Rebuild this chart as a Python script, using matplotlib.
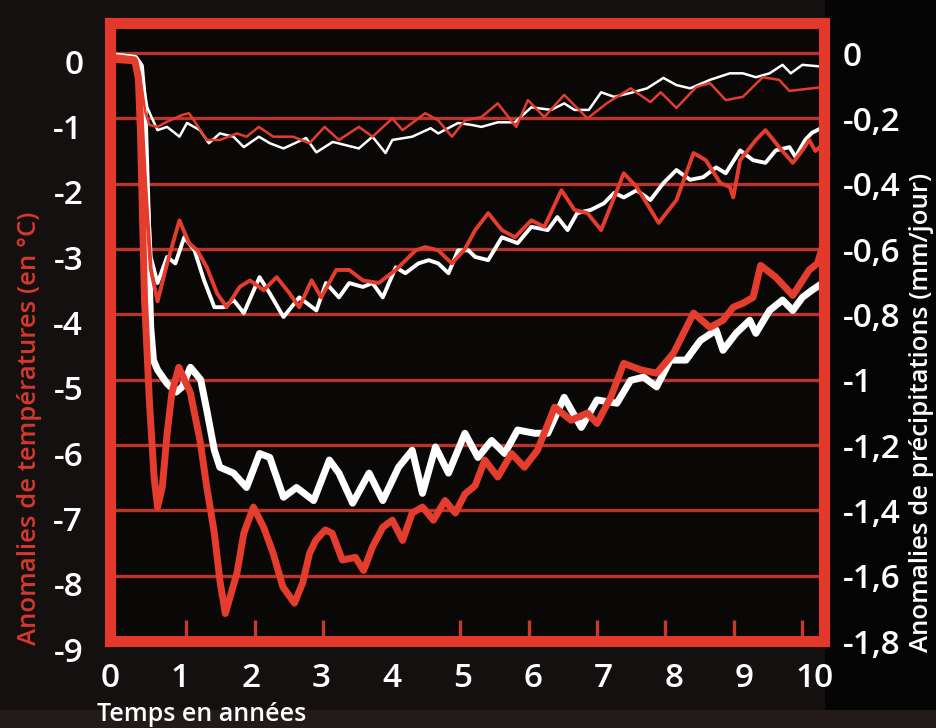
import numpy as np
import matplotlib
matplotlib.use("Agg")
import matplotlib.pyplot as plt
import matplotlib.transforms as mtransforms
from matplotlib.patches import Rectangle

plt.rcParams['font.family'] = ['Open Sans', 'DejaVu Sans']

# --- temperature anomalies (°C), three scenarios: weak / medium / strong ---
temp_weak_t = [0, 0.25, 0.32, 0.40, 0.46, 0.58, 0.72, 0.83, 0.93, 1.04, 1.13, 1.30, 1.49, 1.74,
               1.88, 2.06, 2.27, 2.56, 2.80, 3.02, 3.23, 3.52, 3.72, 4.01, 4.16, 4.49, 4.68, 4.88,
               5.07, 5.31, 5.55, 5.82, 5.99, 6.23, 6.52, 6.86, 7.14, 7.49, 7.78, 7.93, 8.16, 8.45,
               8.65, 8.88, 9.13, 9.42, 9.66, 9.81, 10.05, 10.31]
temp_weak = [-0.05, -0.08, -0.3, -0.9, -1.1, -1.13, -1.05, -1.0, -0.95, -0.92, -1.06, -1.33, -1.33,
             -1.23, -1.28, -1.13, -1.28, -1.28, -1.38, -1.13, -1.33, -1.13, -1.28, -1.0, -1.18,
             -0.92, -1.03, -1.28, -1.03, -0.98, -0.77, -1.13, -0.72, -0.98, -0.64, -1.0, -0.77,
             -0.54, -0.75, -0.60, -0.84, -0.52, -0.46, -0.72, -0.67, -0.37, -0.41, -0.58, -0.55, -0.52]

temp_mid_t = [0, 0.25, 0.32, 0.40, 0.48, 0.58, 0.72, 0.90, 1.04, 1.16, 1.30, 1.45, 1.59, 1.78, 1.93,
              2.13, 2.32, 2.51, 2.65, 2.83, 2.97, 3.19, 3.38, 3.58, 3.81, 4.06, 4.35, 4.49, 4.68,
              4.88, 5.07, 5.22, 5.41, 5.61, 5.80, 6.04, 6.23, 6.48, 6.67, 6.86, 7.06, 7.25, 7.39,
              7.58, 7.90, 8.16, 8.41, 8.59, 8.80, 8.94, 8.99, 9.09, 9.32, 9.46, 9.66, 9.86, 10.0,
              10.1, 10.19, 10.31]
temp_mid = [-0.05, -0.08, -0.4, -2.0, -3.3, -3.8, -3.22, -2.56, -2.91, -3.02, -3.28, -3.68, -3.89,
            -3.58, -3.48, -3.63, -3.43, -3.68, -3.89, -3.48, -3.74, -3.32, -3.32, -3.48, -3.52,
            -3.32, -3.02, -2.97, -3.02, -3.22, -3.0, -2.71, -2.45, -2.71, -2.82, -2.56, -2.66,
            -2.10, -2.40, -2.45, -2.71, -2.21, -1.84, -2.05, -2.60, -2.25, -1.53, -1.64, -1.99,
            -2.05, -2.21, -1.64, -1.33, -1.18, -1.44, -1.68, -1.49, -1.33, -1.50, -1.38]

temp_strong_t = [0, 0.25, 0.30, 0.33, 0.36, 0.39, 0.46, 0.53, 0.58, 0.65, 0.72, 0.79, 0.89, 1.06,
                 1.20, 1.30, 1.41, 1.49, 1.57, 1.74, 1.84, 1.98, 2.13, 2.27, 2.41, 2.58, 2.70, 2.80,
                 2.89, 3.03, 3.13, 3.28, 3.47, 3.59, 3.72, 3.87, 4.01, 4.16, 4.30, 4.45, 4.61, 4.78,
                 4.93, 5.07, 5.22, 5.36, 5.55, 5.75, 5.94, 6.13, 6.38, 6.62, 6.86, 7.00, 7.20, 7.39,
                 7.64, 7.87, 8.12, 8.41, 8.65, 8.84, 8.99, 9.13, 9.28, 9.39, 9.61, 9.86, 10.1,
                 10.22, 10.31]
temp_strong = [-0.1, -0.12, -0.4, -1.2, -2.5, -3.78, -5.31, -6.5, -6.95, -6.64, -5.82, -5.2, -4.81,
               -5.2, -5.93, -6.65, -7.35, -8.07, -8.58, -7.96, -7.35, -6.95, -7.26, -7.66, -8.17,
               -8.42, -8.11, -7.66, -7.46, -7.30, -7.35, -7.76, -7.72, -7.92, -7.56, -7.26, -7.15,
               -7.46, -7.04, -6.95, -7.15, -6.85, -7.04, -6.75, -6.62, -6.23, -6.49, -6.13, -6.34,
               -6.08, -5.42, -5.62, -5.51, -5.67, -5.27, -4.75, -4.85, -4.90, -4.59, -3.98, -4.20,
               -4.09, -3.89, -3.83, -3.74, -3.25, -3.43, -3.71, -3.32, -3.22, -2.91]

# --- precipitation anomalies (mm/jour), same three scenarios ---
prec_weak_t = [0, 0.25, 0.33, 0.38, 0.43, 0.50, 0.58, 0.72, 0.90, 1.01, 1.20, 1.33, 1.49, 1.69,
               1.84, 2.06, 2.22, 2.42, 2.75, 2.90, 3.14, 3.33, 3.52, 3.72, 3.91, 4.01, 4.30, 4.57,
               4.68, 4.97, 5.17, 5.31, 5.55, 5.80, 6.04, 6.33, 6.52, 6.67, 6.88, 7.06, 7.25, 7.49,
               7.73, 7.97, 8.16, 8.36, 8.65, 8.94, 9.13, 9.32, 9.52, 9.71, 9.83, 10.0, 10.31]
prec_weak = [-0.010, -0.016, -0.030, -0.100, -0.166, -0.200, -0.236, -0.226, -0.256, -0.214,
             -0.236, -0.276, -0.246, -0.256, -0.288, -0.256, -0.276, -0.292, -0.260, -0.304,
             -0.272, -0.282, -0.292, -0.256, -0.306, -0.266, -0.256, -0.230, -0.246, -0.214,
             -0.220, -0.226, -0.212, -0.212, -0.166, -0.174, -0.154, -0.174, -0.174, -0.120,
             -0.134, -0.122, -0.108, -0.076, -0.098, -0.108, -0.082, -0.062, -0.062, -0.074,
             -0.062, -0.036, -0.062, -0.036, -0.042]

prec_mid_t = [0, 0.25, 0.33, 0.40, 0.48, 0.58, 0.72, 0.84, 0.97, 1.12, 1.26, 1.41, 1.55, 1.69, 1.84,
              2.07, 2.22, 2.42, 2.65, 2.90, 3.04, 3.23, 3.38, 3.58, 3.72, 3.87, 4.06, 4.20, 4.39,
              4.54, 4.68, 4.83, 4.97, 5.12, 5.22, 5.41, 5.61, 5.84, 6.04, 6.28, 6.42, 6.57, 6.71,
              6.91, 7.10, 7.25, 7.39, 7.58, 7.78, 7.97, 8.16, 8.36, 8.55, 8.74, 8.88, 9.09, 9.28,
              9.46, 9.61, 9.81, 9.90, 10.04, 10.14, 10.31]
prec_mid = [-0.010, -0.016, -0.060, -0.300, -0.624, -0.704, -0.624, -0.644, -0.564, -0.604,
            -0.696, -0.778, -0.778, -0.756, -0.796, -0.686, -0.736, -0.808, -0.748, -0.788,
            -0.704, -0.748, -0.704, -0.716, -0.704, -0.748, -0.656, -0.674, -0.644, -0.634,
            -0.644, -0.674, -0.604, -0.604, -0.624, -0.634, -0.564, -0.582, -0.532, -0.542,
            -0.502, -0.542, -0.490, -0.480, -0.460, -0.428, -0.442, -0.420, -0.450, -0.398,
            -0.358, -0.388, -0.380, -0.350, -0.368, -0.298, -0.328, -0.336, -0.298, -0.288,
            -0.318, -0.266, -0.244, -0.226]

prec_strong_t = [0, 0.25, 0.33, 0.38, 0.43, 0.48, 0.52, 0.58, 0.72, 0.85, 0.94, 1.06, 1.21, 1.30,
                 1.41, 1.49, 1.69, 1.88, 2.07, 2.22, 2.42, 2.61, 2.86, 3.09, 3.23, 3.43, 3.67, 3.87,
                 4.10, 4.30, 4.45, 4.64, 4.83, 5.07, 5.26, 5.46, 5.65, 5.84, 6.09, 6.28, 6.52, 6.77,
                 7.00, 7.29, 7.49, 7.68, 7.87, 8.07, 8.30, 8.51, 8.74, 8.84, 9.03, 9.23, 9.32, 9.52,
                 9.71, 9.86, 10.0, 10.14, 10.31]
prec_strong = [-0.010, -0.016, -0.040, -0.160, -0.500, -0.840, -0.940, -0.970, -1.012, -1.038,
               -1.022, -0.962, -1.000, -1.094, -1.216, -1.268, -1.286, -1.330, -1.226, -1.238,
               -1.360, -1.330, -1.370, -1.246, -1.286, -1.378, -1.286, -1.370, -1.268, -1.216,
               -1.348, -1.206, -1.286, -1.164, -1.238, -1.186, -1.226, -1.154, -1.164, -1.164,
               -1.054, -1.146, -1.062, -1.072, -1.002, -0.992, -1.022, -0.940, -0.940, -0.880,
               -0.848, -0.910, -0.858, -0.818, -0.858, -0.788, -0.756, -0.788, -0.748, -0.726,
               -0.702]

years = list(range(11))
temp_ticks = [0, -1, -2, -3, -4, -5, -6, -7, -8, -9]
temp_labels = ['0', '-1', '-2', '-3', '-4', '-5', '-6', '-7', '-8', '-9']
prec_ticks = [0, -0.2, -0.4, -0.6, -0.8, -1.0, -1.2, -1.4, -1.6, -1.8]
prec_labels = ['0', '-0,2', '-0,4', '-0,6', '-0,8', '-1', '-1,2', '-1,4', '-1,6', '-1,8']

RED = '#e43d2d'
FRAME = '#e2392a'
GRID = '#b9342a'

fig = plt.figure(figsize=(9.37, 7.28), dpi=100, facecolor='#141010')
# darker backdrop right of the frame, lighter strip along the bottom
fig.patches.append(Rectangle((0.88, 0), 0.12, 1, transform=fig.transFigure,
                             facecolor='#050404', edgecolor='none', zorder=-2))
fig.patches.append(Rectangle((0, 0), 1, 18 / 728, transform=fig.transFigure,
                             facecolor='#221b1a', edgecolor='none', zorder=-1))
ax = fig.add_axes([0.117, 0.1195, 0.762, 0.8495])
ax.set_facecolor('#0a0707')
ax.set_xlim(0, 10.31)
ax.set_ylim(-9, 0.467)

# precipitation axis = temperature axis / 5
to_prec = mtransforms.Affine2D().scale(1, 5) + ax.transData
ax.plot(prec_weak_t, prec_weak, color='white', lw=1.8, transform=to_prec, zorder=3,
        solid_joinstyle='round')
ax.plot(temp_weak_t, temp_weak, color=RED, lw=1.8, zorder=4, solid_joinstyle='round')
ax.plot(prec_mid_t, prec_mid, color='white', lw=2.8, transform=to_prec, zorder=3,
        solid_joinstyle='round')
ax.plot(temp_mid_t, temp_mid, color=RED, lw=2.8, zorder=4, solid_joinstyle='round')
ax.plot(prec_strong_t, prec_strong, color='white', lw=5, transform=to_prec, zorder=3,
        solid_joinstyle='round')
ax.plot(temp_strong_t, temp_strong, color=RED, lw=5, zorder=4, solid_joinstyle='round')

for s in ax.spines.values():
    s.set_color(FRAME)
    s.set_linewidth(8)
    s.set_zorder(6)

# horizontal rules
ax.set_yticks(temp_ticks)
ax.set_yticklabels(temp_labels, fontweight='semibold')
ax.yaxis.grid(True, color=GRID, lw=2.4)
ax.set_axisbelow(True)
ax.tick_params(axis='y', length=0, pad=19, labelsize=24, labelcolor='white')
offset = mtransforms.ScaledTranslation(0, -0.08, fig.dpi_scale_trans)
for lab in ax.get_yticklabels():
    lab.set_transform(lab.get_transform() + offset)

# year marks inside the frame, labels slightly spread out
ax.set_xticks(years[1:], minor=True)
ax.set_xticks(np.linspace(-0.12, 10.18, 11))
ax.set_xticklabels([str(y) for y in years], fontweight='semibold')
ax.tick_params(axis='x', which='minor', direction='in', length=15, width=2.4, color='#c9382c')
ax.tick_params(axis='x', which='major', length=0, pad=15, labelsize=24, labelcolor='white')

ax2 = ax.twinx()
ax2.set_ylim(-9 / 5, 0.467 / 5)
ax2.set_yticks(prec_ticks)
ax2.set_yticklabels(prec_labels, fontweight='semibold')
ax2.tick_params(axis='y', length=0, pad=14, labelsize=24, labelcolor='white')
for s in ax2.spines.values():
    s.set_visible(False)

fig.text(0.032, 0.412, 'Anomalies de températures (en °C)', rotation=90, color='#d6392b',
         fontsize=18.5, fontweight='semibold', ha='center', va='center')
fig.text(0.983, 0.434, 'Anomalies de précipitations (mm/jour)', rotation=90, color='white',
         fontsize=18.5, fontweight='semibold', ha='center', va='center')
fig.text(97 / 937, 1 - 721 / 728, 'Temps en années', color='white', fontsize=18,
         fontweight='semibold', ha='left', va='baseline')

fig.savefig('out.png', dpi=100, facecolor=fig.get_facecolor())
